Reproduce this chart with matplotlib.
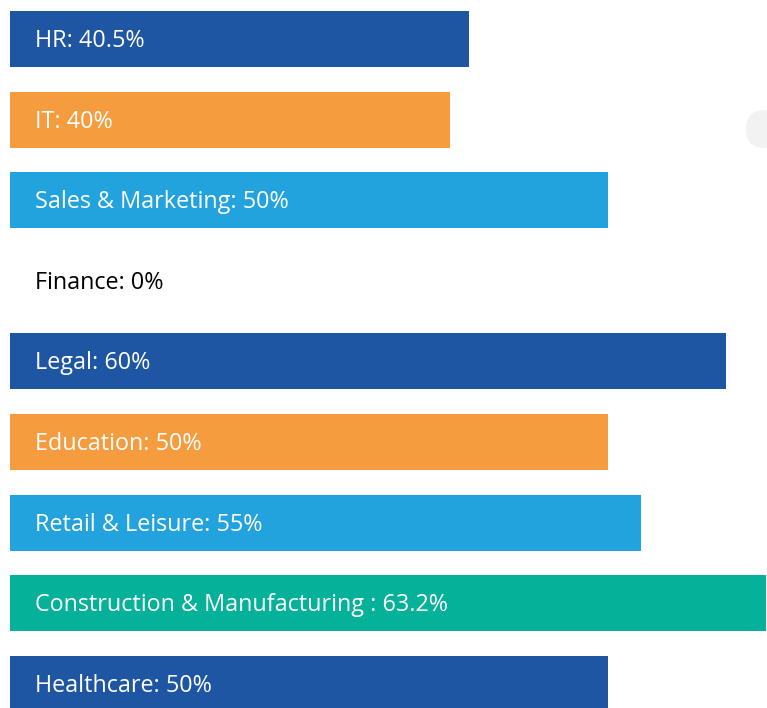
import matplotlib
matplotlib.use("Agg")
import matplotlib.pyplot as plt
from matplotlib.patches import FancyBboxPatch

plt.rcParams['font.family'] = ['Open Sans', 'DejaVu Sans']

sectors = ["HR", "IT", "Sales & Marketing", "Finance", "Legal", "Education",
           "Retail & Leisure", "Construction & Manufacturing ", "Healthcare"]
labels = ["40.5%", "40%", "50%", "0%", "60%", "50%", "55%", "63.2%", "50%"]
# bar lengths as drawn in the picture (not always the labelled value)
lengths = [38.4, 36.8, 50, 0, 59.9, 50, 52.8, 63.2, 50]
colors = ['#1f56a3', '#f59c3f', '#22a3de', '#ffffff', '#1f56a3', '#f59c3f',
          '#22a3de', '#05b199', '#1f56a3']

W, H = 767, 708
fig = plt.figure(figsize=(W / 100, H / 100), dpi=100)
ax = fig.add_axes([0, 0, 1, 1])

# light grey decoration at the right edge
deco = FancyBboxPatch((746, H - 148), 80, 38, boxstyle="round,pad=0,rounding_size=19",
                      transform=None, facecolor='#f2f2f2', edgecolor='none', zorder=0)
fig.patches.append(deco)

px_per_unit = 598 / 50
ax.set_xlim(-10 / px_per_unit, (W - 10) / px_per_unit)
row = 80.6
ax.set_ylim((H - 39) / row, -39 / row)

y = list(range(len(sectors)))
ax.barh(y, lengths, height=56 / row, color=colors, zorder=2)

for i, (s, v) in enumerate(zip(sectors, labels)):
    c = 'black' if lengths[i] == 0 else 'white'
    ax.annotate(f"{s}: {v}", xy=(0, i), xytext=(25, -2), textcoords='offset pixels',
                ha='left', va='center', fontsize=16.8, color=c, zorder=3)

ax.axis('off')
ax.patch.set_alpha(0)
fig.patch.set_facecolor('white')
fig.savefig("out.png", dpi=100)
